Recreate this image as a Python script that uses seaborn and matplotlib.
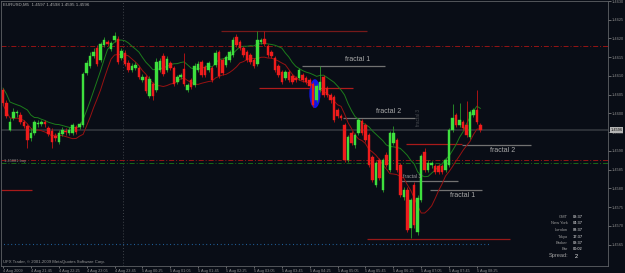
import numpy as np
import pandas as pd
import matplotlib
matplotlib.use("Agg")
import matplotlib.pyplot as plt
import seaborn as sns
from matplotlib.patches import Ellipse

# ---------------- data (EURUSD M5, 4-5 Aug 2009) ----------------
opens = [1.46063, 1.46028, 1.45956, 1.45988, 1.46001, 1.45996, 1.45977, 1.45967, 1.45935, 1.45948,
         1.45972, 1.45972, 1.45977, 1.45961, 1.45953, 1.45940, 1.45924, 1.45945, 1.45953, 1.45948,
         1.45948, 1.45964, 1.45964, 1.45969, 1.46108, 1.46127, 1.46153, 1.46175, 1.46143, 1.46183,
         1.46191, 1.46172, 1.46196, 1.46199, 1.46148, 1.46161, 1.46135, 1.46116, 1.46121, 1.46121,
         1.46089, 1.46097, 1.46047, 1.46079, 1.46063, 1.46116, 1.46153, 1.46116, 1.46135, 1.46121,
         1.46084, 1.46097, 1.46119, 1.46063, 1.46089, 1.46076, 1.46116, 1.46137, 1.46124, 1.46116,
         1.46121, 1.46129, 1.46164, 1.46143, 1.46129, 1.46143, 1.46156, 1.46204, 1.46191, 1.46175,
         1.46164, 1.46156, 1.46143, 1.46132, 1.46191, 1.46199, 1.46180, 1.46164, 1.46148, 1.46127,
         1.46111, 1.46095, 1.46111, 1.46100, 1.46095, 1.46095, 1.46103, 1.46095, 1.46089, 1.46079,
         1.46036, 1.46063, 1.46097, 1.46068, 1.46049, 1.46044, 1.46009, 1.45993, 1.45969, 1.45876,
         1.45948, 1.45916, 1.45948, 1.45980, 1.45969, 1.45943, 1.45884, 1.45809, 1.45876, 1.45796,
         1.45889, 1.45849, 1.45921, 1.45929, 1.45863, 1.45777, 1.45796, 1.45695, 1.45809, 1.45684,
         1.45769, 1.45897, 1.45849, 1.45863, 1.45860, 1.45860, 1.45860, 1.45849, 1.45863, 1.45956,
         1.45996, 1.45969, 1.45977, 1.45969, 1.45937, 1.45996, 1.46009, 1.45969]
highs = [1.46068, 1.46036, 1.45988, 1.46015, 1.46009, 1.46004, 1.45983, 1.45972, 1.45961, 1.45983,
         1.45983, 1.45983, 1.45983, 1.45967, 1.45961, 1.45948, 1.45956, 1.45964, 1.45961, 1.45964,
         1.45975, 1.45969, 1.45977, 1.46111, 1.46143, 1.46164, 1.46175, 1.46183, 1.46191, 1.46204,
         1.46196, 1.46193, 1.46217, 1.46207, 1.46175, 1.46169, 1.46143, 1.46135, 1.46137, 1.46127,
         1.46105, 1.46103, 1.46100, 1.46084, 1.46148, 1.46148, 1.46161, 1.46153, 1.46140, 1.46127,
         1.46103, 1.46108, 1.46161, 1.46081, 1.46095, 1.46135, 1.46140, 1.46143, 1.46129, 1.46140,
         1.46127, 1.46169, 1.46169, 1.46148, 1.46156, 1.46169, 1.46204, 1.46212, 1.46196, 1.46180,
         1.46169, 1.46161, 1.46148, 1.46220, 1.46201, 1.46220, 1.46185, 1.46169, 1.46153, 1.46132,
         1.46116, 1.46116, 1.46116, 1.46105, 1.46100, 1.46121, 1.46108, 1.46100, 1.46095, 1.46084,
         1.46079, 1.46127, 1.46103, 1.46073, 1.46055, 1.46049, 1.46015, 1.45999, 1.45975, 1.45943,
         1.45953, 1.45948, 1.45988, 1.45985, 1.45975, 1.45948, 1.45889, 1.45873, 1.45881, 1.45881,
         1.45897, 1.45953, 1.45967, 1.45935, 1.45868, 1.45804, 1.45804, 1.45775, 1.45817, 1.45783,
         1.45892, 1.45908, 1.45876, 1.45873, 1.45865, 1.45865, 1.45865, 1.45881, 1.45961, 1.46025,
         1.46001, 1.46028, 1.45983, 1.46033, 1.46009, 1.46015, 1.46063, 1.45975]
lows = [1.46023, 1.45988, 1.45953, 1.45983, 1.45991, 1.45972, 1.45961, 1.45908, 1.45927, 1.45943,
        1.45964, 1.45967, 1.45964, 1.45940, 1.45908, 1.45927, 1.45919, 1.45940, 1.45943, 1.45943,
        1.45943, 1.45945, 1.45959, 1.45964, 1.46103, 1.46121, 1.46148, 1.46127, 1.46137, 1.46177,
        1.46180, 1.46167, 1.46191, 1.46132, 1.46143, 1.46127, 1.46111, 1.46111, 1.46116, 1.46092,
        1.46084, 1.46055, 1.46041, 1.46036, 1.46057, 1.46111, 1.46100, 1.46111, 1.46116, 1.46073,
        1.46079, 1.46092, 1.46073, 1.46057, 1.46065, 1.46071, 1.46111, 1.46097, 1.46097, 1.46111,
        1.46084, 1.46124, 1.46095, 1.46103, 1.46124, 1.46137, 1.46151, 1.46177, 1.46169, 1.46151,
        1.46137, 1.46132, 1.46121, 1.46127, 1.46185, 1.46180, 1.46151, 1.46148, 1.46111, 1.46097,
        1.46079, 1.46089, 1.46084, 1.46079, 1.46084, 1.46089, 1.46084, 1.46079, 1.46068, 1.46017,
        1.46031, 1.46057, 1.46044, 1.46044, 1.46028, 1.45977, 1.45988, 1.45983, 1.45871, 1.45871,
        1.45916, 1.45908, 1.45943, 1.45943, 1.45924, 1.45857, 1.45817, 1.45804, 1.45823, 1.45791,
        1.45857, 1.45844, 1.45916, 1.45844, 1.45777, 1.45769, 1.45684, 1.45668, 1.45695, 1.45676,
        1.45764, 1.45844, 1.45844, 1.45855, 1.45839, 1.45839, 1.45839, 1.45844, 1.45857, 1.45951,
        1.45964, 1.45964, 1.45956, 1.45937, 1.45932, 1.45991, 1.45972, 1.45951]
closes = [1.46028, 1.45993, 1.45977, 1.46004, 1.46004, 1.45977, 1.45967, 1.45929, 1.45948, 1.45977,
          1.45975, 1.45977, 1.45972, 1.45945, 1.45924, 1.45935, 1.45948, 1.45956, 1.45951, 1.45956,
          1.45969, 1.45951, 1.45972, 1.46105, 1.46135, 1.46153, 1.46164, 1.46132, 1.46185, 1.46196,
          1.46185, 1.46188, 1.46207, 1.46137, 1.46167, 1.46132, 1.46116, 1.46127, 1.46129, 1.46097,
          1.46097, 1.46060, 1.46092, 1.46047, 1.46137, 1.46140, 1.46105, 1.46145, 1.46121, 1.46079,
          1.46097, 1.46103, 1.46079, 1.46076, 1.46071, 1.46127, 1.46132, 1.46103, 1.46103, 1.46135,
          1.46089, 1.46161, 1.46100, 1.46108, 1.46151, 1.46164, 1.46196, 1.46183, 1.46175, 1.46156,
          1.46143, 1.46137, 1.46127, 1.46196, 1.46196, 1.46185, 1.46156, 1.46153, 1.46116, 1.46103,
          1.46084, 1.46111, 1.46089, 1.46084, 1.46089, 1.46116, 1.46089, 1.46084, 1.46073, 1.46023,
          1.46073, 1.46084, 1.46049, 1.46049, 1.46036, 1.45983, 1.45993, 1.45988, 1.45876, 1.45937,
          1.45921, 1.45943, 1.45983, 1.45948, 1.45929, 1.45863, 1.45823, 1.45868, 1.45828, 1.45876,
          1.45863, 1.45948, 1.45948, 1.45849, 1.45783, 1.45796, 1.45689, 1.45769, 1.45703, 1.45775,
          1.45887, 1.45849, 1.45868, 1.45868, 1.45844, 1.45844, 1.45844, 1.45876, 1.45956, 1.45988,
          1.45969, 1.45983, 1.45961, 1.45943, 1.46004, 1.46009, 1.45977, 1.45956]

time_labels = ["4 Aug 2009", "4 Aug 21:45", "4 Aug 22:25", "4 Aug 23:05", "4 Aug 23:45",
               "5 Aug 00:25", "5 Aug 01:05", "5 Aug 01:45", "5 Aug 02:25", "5 Aug 03:05",
               "5 Aug 03:45", "5 Aug 04:25", "5 Aug 05:05", "5 Aug 05:45", "5 Aug 06:25",
               "5 Aug 07:05", "5 Aug 07:45", "5 Aug 08:25"]
time_tick_bars = [0, 8, 16, 24, 32, 40, 48, 56, 64, 72, 80, 88, 96, 104, 112, 120, 128, 136]
price_ticks = [1.4565, 1.4570, 1.4575, 1.4580, 1.4585, 1.4590, 1.4595,
               1.4600, 1.4605, 1.4610, 1.4615, 1.4620, 1.4625, 1.4630]

bid_price = 1.45956
day_separator_bar = 34.5

# horizontal trend / fractal segments (price, from bar, to bar)
red_seg_price = [1.46220, 1.46068, 1.45919, 1.45665, 1.45796]
red_seg_from = [62.6, 73.5, 115.6, 104.4, -0.6]
red_seg_to = [104.4, 100.4, 131.7, 145.5, 8.3]
grey_seg_price = [1.46127, 1.45988, 1.45916, 1.45820, 1.45796]
grey_seg_from = [85.8, 97.6, 131.7, 114.2, 122.5]
grey_seg_to = [109.6, 118.2, 151.5, 130.6, 137.4]

fractal_texts = ["fractal 1", "fractal 2", "fractal 2", "fractal 1"]
fractal_text_bar = [98.1, 107.0, 139.7, 128.3]
fractal_text_price = [1.46145, 1.46004, 1.45900, 1.45780]

order_levels = [1.46180, 1.45876]      # red dash-dot lines
stop_level = 1.45868                   # green dash-dot
blue_level = 1.45652
blue_level_to = 139.7

info_names = ["GMT", "New York", "London", "Tokyo", "Broker", "Bar"]
info_values = ["08:37", "04:37", "09:37", "17:37", "08:37", "00:02"]
spread_value = "2"

# ---------------- styling ----------------
sns.set_theme(style="dark", rc={"lines.scale_dashes": False})
plt.rcParams['font.family'] = ['Liberation Sans', 'DejaVu Sans']

BG = '#090d16'
W, H = 625, 273
fig = plt.figure(figsize=(W / 100, H / 100), dpi=100, facecolor=BG)
ax = fig.add_axes([1 / W, 7 / H, 607 / W, 265 / H])
ax.set_facecolor(BG)

df = pd.DataFrame({'bar': np.arange(len(closes)), 'open': opens, 'high': highs,
                   'low': lows, 'close': closes})
df['ma_high'] = df['high'].rolling(8, min_periods=1).mean()
df['ma_low'] = df['low'].rolling(8, min_periods=1).mean()

DASHDOT = (0, (3.6, 1.4, 0.7, 1.4))
DOTTED = (0, (0.6, 2.0))

# full width lines
ax.axhline(bid_price, color='#2c3037', lw=1.4, zorder=1)
for p in order_levels:
    ax.axhline(p, color='#951414', lw=0.7, linestyle=DASHDOT, zorder=2)
ax.axhline(stop_level, color='#186818', lw=0.7, linestyle=DASHDOT, zorder=2)
ax.hlines(blue_level, -1, blue_level_to, color='#2470b4', lw=0.8, linestyles=[DOTTED], zorder=2)
ax.axvline(day_separator_bar, color='#484c52', lw=0.6, linestyle=(0, (0.7, 1.4)), zorder=1)

# segments
red_cols = ['#761a1a', '#b01c1c', '#a81a1a', '#981818', '#a81a1a']
for p, a, b, c in zip(red_seg_price, red_seg_from, red_seg_to, red_cols):
    ax.hlines(p, a, b, color=c, lw=0.9, zorder=2)
for p, a, b in zip(grey_seg_price, grey_seg_from, grey_seg_to):
    ax.hlines(p, a, b, color='#727272', lw=0.9, zorder=2)

# blue highlight
ax.add_patch(Ellipse((89.5, 1.46053), 3.2, 0.00077, facecolor='#1414e6',
                     edgecolor='none', zorder=3))

# moving averages
sns.lineplot(data=df, x='bar', y='ma_high', color='#1c7c1c', lw=0.7, ax=ax, zorder=4)
sns.lineplot(data=df, x='bar', y='ma_low', color='#981212', lw=0.7, ax=ax, zorder=4)

# candles
up = df['close'] >= df['open']
dn = ~up
ax.vlines(df['bar'][up], df['low'][up], df['high'][up], color='#2a982a', lw=0.6, zorder=5)
ax.vlines(df['bar'][dn], df['low'][dn], df['high'][dn], color='#c41414', lw=0.6, zorder=5)
ax.bar(df['bar'][up], df['close'][up] - df['open'][up], bottom=df['open'][up], width=0.72,
       color='#3ee03e', edgecolor='#3ee03e', linewidth=0.3, zorder=6)
ax.bar(df['bar'][dn], df['close'][dn] - df['open'][dn], bottom=df['open'][dn], width=0.72,
       color='#ee1c1c', edgecolor='#ee1c1c', linewidth=0.3, zorder=6)

# texts on chart
for t, xb, yp in zip(fractal_texts, fractal_text_bar, fractal_text_price):
    ax.text(xb, yp, t, fontsize=5, color='#a9a9a9', va='center', ha='left', zorder=7)
ax.text(114.8, 1.45833, "fractal 3", fontsize=3.6, color='#a0a0a0', va='center', ha='left', zorder=7)
ax.text(119.1, 1.45988, "fractal 3", fontsize=3.4, color='#4a4d52', va='center', ha='center',
        rotation=90, zorder=7)
ax.text(0.3, 1.45873, "1.45881 buy", fontsize=2.9, color='#8a8a8a', va='center', ha='left', zorder=7)

# axes formatting
ax.set_xlim(-0.574, 173.6)
ax.set_ylim(1.455933, 1.46300)
ax.set_xlabel('')
ax.set_ylabel('')
ax.grid(False)
ax.yaxis.tick_right()
ax.set_yticks(price_ticks)
ax.set_yticklabels([f"{p:.4f}" for p in price_ticks])
ax.set_xticks(time_tick_bars)
ax.set_xticklabels(time_labels, ha='left')
ax.tick_params(axis='y', colors='#8f8f8f', labelsize=2.8, length=1.8, width=0.5, pad=1.0,
               direction='out', right=True, left=False)
ax.tick_params(axis='x', colors='#8f8f8f', labelsize=2.8, length=1.6, width=0.5, pad=0.4,
               direction='out', bottom=True)
for s in ax.spines.values():
    s.set_color('#5e6166')
    s.set_linewidth(0.6)
    s.set_visible(True)

# current price box
ax.text(1.004, bid_price, f"{bid_price:.4f}", transform=ax.get_yaxis_transform(),
        fontsize=2.8, color='#101010', va='center', ha='left', clip_on=False,
        bbox=dict(facecolor='#b4b4b4', edgecolor='none', pad=0.6), zorder=8)

# header / footer texts
def px(x, y):
    return x / W, 1 - y / H

o_, h_, l_, c_ = opens[-1], highs[-1], lows[-1], closes[-1]
fig.text(*px(3, 4.5), f"EURUSD,M5  {o_:.4f} {h_:.4f} {l_:.4f} {c_:.4f}", fontsize=3.2,
         color='#b0b0b0', va='center', ha='left')
fig.text(*px(3, 262), "UFX Trader, \u00a9 2001-2009 MetaQuotes Software Corp.", fontsize=3.1,
         color='#9a9a9a', va='center', ha='left')

rows_y = [217, 223.4, 230, 236.6, 242.8, 249.3]
for nm, val, yy in zip(info_names, info_values, rows_y):
    fig.text(*px(568, yy), nm, fontsize=2.9, color='#9c9c9c', va='center', ha='right')
    fig.text(*px(573, yy), val, fontsize=2.9, color='#f0f0f0', va='center', ha='left')
fig.text(*px(569, 256), "Spread:", fontsize=4.1, color='#a0a0a0', va='center', ha='right')
fig.text(*px(575, 256), spread_value, fontsize=4.1, color='#f0f0f0', va='center', ha='left')

fig.savefig("out.png", dpi=100, facecolor=BG)
